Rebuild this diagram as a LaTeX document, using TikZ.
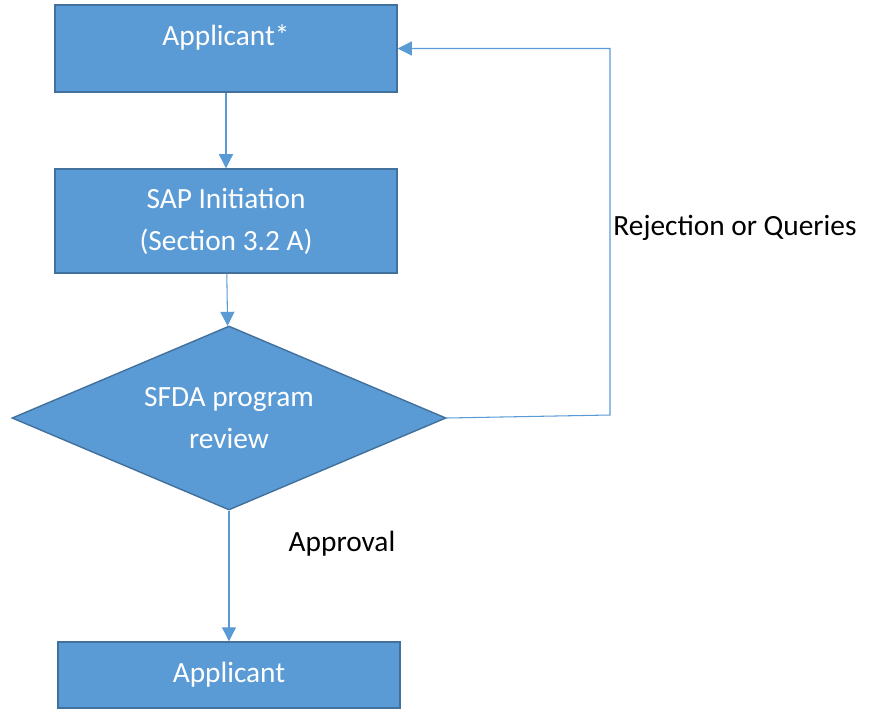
\documentclass[tikz,border=0pt]{standalone}
\usepackage{fontspec}
\setmainfont{Carlito}
\usetikzlibrary{arrows.meta,shapes.geometric}
\definecolor{boxblue}{HTML}{5B9BD5}
\definecolor{edgeblue}{HTML}{41719C}
\tikzset{>={Triangle[length=8pt,width=8pt]}}
\tikzset{
  stepbox/.style = {
    draw=edgeblue, line width=0.8pt, fill=boxblue, text=white,
    minimum width=6.84cm, align=center,
    font=\fontsize{16.7}{24}\selectfont
  },
  decision/.style = {
    diamond, aspect=2.36, draw=edgeblue, line width=0.8pt, fill=boxblue,
    text=white, inner sep=0pt, minimum width=8.68cm, minimum height=3.68cm,
    align=center, font=\fontsize{16.7}{24}\selectfont
  },
  flow/.style = {->, draw=boxblue, line width=0.6pt},
  note/.style = {font=\fontsize{16.7}{20}\selectfont}
}

\begin{document}
\begin{tikzpicture}
  \useasboundingbox (0,0) rectangle (17.5,-14.2);
  % boxes
  \node[stepbox, minimum height=1.74cm, text height=0.4cm, text depth=0.52cm]
    (applicant) at (4.52,-0.97) {Applicant*};
  \node[stepbox, minimum height=2.08cm] (sap) at (4.52,-4.42)
    {SAP Initiation\\(Section 3.2 A)};
  \node[decision] (review) at (4.58,-8.36) {SFDA program\\review};
  \node[stepbox, minimum height=1.32cm] (result) at (4.58,-13.50) {Applicant};
  % connectors
  \draw[flow] (applicant) -- (sap);
  \draw[flow] (sap) -- (review);
  \draw[flow] (review) -- (result);
  \coordinate (turn) at (12.2,-8.30);
  \draw[flow] (review.east) -- (turn) |- (applicant.east);
  % labels
  \node[note] (reject) at (14.7,-4.56) {Rejection or Queries};
  \node[note] (approve) at (6.84,-10.88) {Approval};
\end{tikzpicture}
\end{document}
